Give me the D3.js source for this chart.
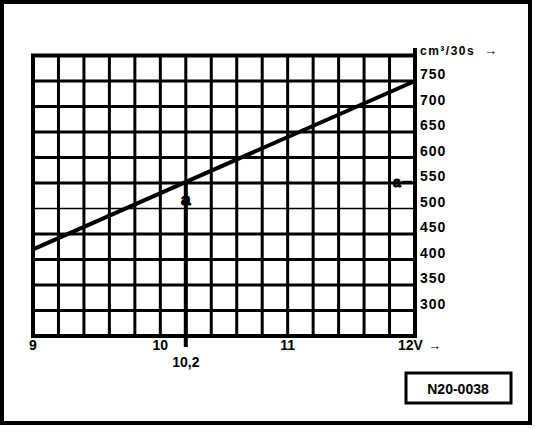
<!DOCTYPE html>
<html>
<head>
<meta charset="utf-8">
<script src="https://cdn.jsdelivr.net/npm/d3@7"></script>
<style>
  body { margin: 0; background: #fff; }
  svg { display: block; }
  text { font-family: "Liberation Sans", Arial, sans-serif; font-weight: bold; fill: #000; }
</style>
</head>
<body>
<svg id="chart" width="544" height="428"></svg>
<script>
// Data
var volts = [9, 12];
var flow = [420, 750];
var xTickValues = [9, 10, 11, 12];
var xTickLabels = ["9", "10", "11", "12V"];
var yTickValues = [300, 350, 400, 450, 500, 550, 600, 650, 700, 750];
var markVolt = 10.2, markVoltLabel = "10,2", markFlow = 550;
var yUnit = "cm\u00b3/30s", figId = "N20-0038";

var svg = d3.select("#chart");
var x = d3.scaleLinear().domain([9, 12]).range([33, 415]);
var y = d3.scaleLinear().domain([250, 800]).range([336, 55.5]);

// Outer frame
svg.append("rect").attr("x", 2).attr("y", 2).attr("width", 528).attr("height", 421)
  .attr("fill", "none").attr("stroke", "#000").attr("stroke-width", 4);

// Grid
var grid = svg.append("g");
grid.selectAll("line.v").data(x.ticks(15)).enter().append("line").attr("class", "v")
  .attr("x1", function(d) { return x(d); }).attr("x2", function(d) { return x(d); })
  .attr("y1", y(800)).attr("y2", y(250))
  .attr("stroke", "#000").attr("stroke-width", 3);
grid.selectAll("line.h").data(y.ticks(11)).enter().append("line").attr("class", "h")
  .attr("x1", x(9)).attr("x2", x(12))
  .attr("y1", function(d) { return y(d); }).attr("y2", function(d) { return y(d); })
  .attr("stroke", "#000").attr("stroke-width", function(d) { return d == 500 ? 1.5 : 3; });

// Border of the plot, right axis extends above
svg.append("rect").attr("x", x(9)).attr("y", y(800)).attr("width", x(12) - x(9)).attr("height", y(250) - y(800))
  .attr("fill", "none").attr("stroke", "#000").attr("stroke-width", 4);
svg.append("line").attr("x1", x(12)).attr("x2", x(12)).attr("y1", 48).attr("y2", y(250))
  .attr("stroke", "#000").attr("stroke-width", 4);

// Marker line at 10,2 V extended below the axis
svg.append("line").attr("x1", x(markVolt)).attr("x2", x(markVolt)).attr("y1", y(markFlow)).attr("y2", 347)
  .attr("stroke", "#000").attr("stroke-width", 4);

// Characteristic line
var line = d3.line().x(function(d, i) { return x(volts[i]); }).y(function(d) { return y(d); });
svg.append("path").attr("d", line(flow)).attr("fill", "none").attr("stroke", "#000").attr("stroke-width", 4);

// Marker "a"
svg.append("text").attr("x", x(markVolt)).attr("y", y(markFlow) + 22).attr("text-anchor", "middle")
  .attr("font-size", 17).attr("stroke", "#000").attr("stroke-width", 1.2).text("a");
svg.append("text").attr("x", 393).attr("y", y(markFlow) + 4).attr("font-size", 14)
  .attr("stroke", "#000").attr("stroke-width", 1).text("a");
svg.append("line").attr("x1", 402).attr("x2", 412).attr("y1", y(markFlow) - 1).attr("y2", y(markFlow) - 1)
  .attr("stroke", "#000").attr("stroke-width", 2.5);

// Y labels on the right
svg.selectAll("text.yl").data(yTickValues).enter().append("text").attr("class", "yl")
  .attr("x", 420).attr("y", function(d) { return y(d) - 2; })
  .attr("font-size", 14).attr("letter-spacing", 1).text(function(d) { return d; });
svg.append("text").attr("x", 420).attr("y", 55).attr("font-size", 12).attr("letter-spacing", 1.5)
  .text(yUnit);
svg.append("text").attr("x", 484).attr("y", 55).attr("font-size", 13).text("\u2192");

// X labels
svg.selectAll("text.xl").data(xTickValues).enter().append("text").attr("class", "xl")
  .attr("x", function(d, i) { return i == 3 ? x(d) - 17 : x(d); })
  .attr("y", 350)
  .attr("text-anchor", function(d, i) { return i == 3 ? "start" : "middle"; })
  .attr("font-size", 14).text(function(d, i) { return xTickLabels[i]; });
svg.append("text").attr("x", 428).attr("y", 350).attr("font-size", 13).text("\u2192");
svg.append("text").attr("x", x(markVolt)).attr("y", 367).attr("text-anchor", "middle")
  .attr("font-size", 14).text(markVoltLabel);

// Figure id box
svg.append("rect").attr("x", 406).attr("y", 373).attr("width", 105).attr("height", 30)
  .attr("fill", "none").attr("stroke", "#000").attr("stroke-width", 3);
svg.append("text").attr("x", 458).attr("y", 394).attr("text-anchor", "middle")
  .attr("font-size", 14).text(figId);
</script>
</body>
</html>
